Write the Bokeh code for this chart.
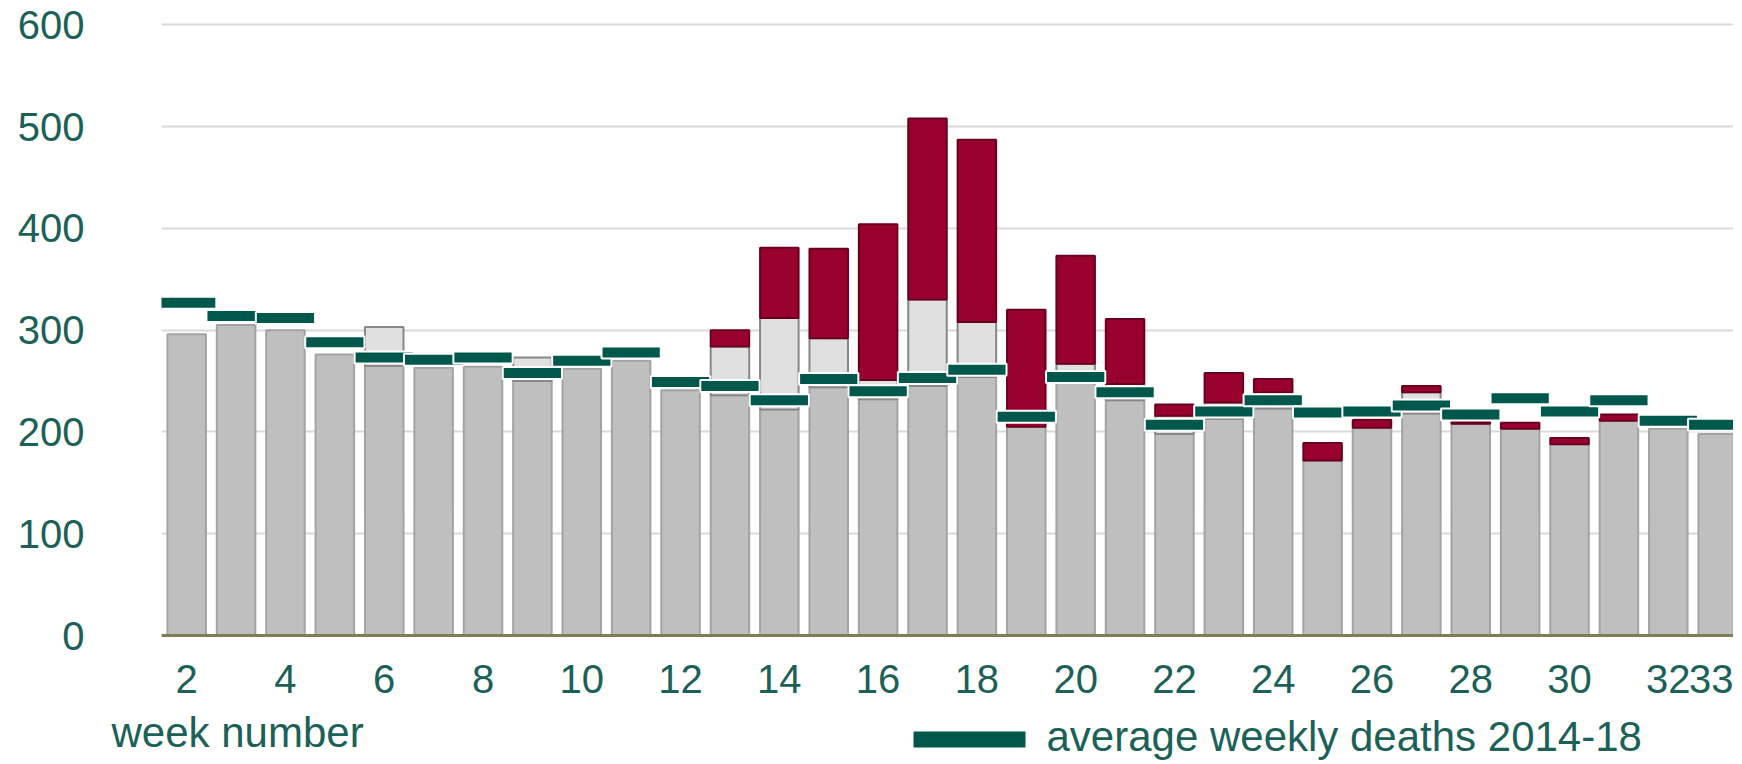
from bokeh.plotting import figure
from bokeh.models import ColumnDataSource, FixedTicker
from bokeh.layouts import column
from bokeh.core.properties import value
from bokeh.embed import file_html
from bokeh.resources import INLINE

# ---- data ----
weeks = list(range(2, 34))
deaths_base = [296, 305, 300, 276, 265, 263, 264, 250, 262, 270, 241, 236, 222, 244,
               232, 245, 254, 205, 248, 231, 198, 213, 223, 172, 204, 218, 208, 203,
               188, 211, 203, 198]
deaths_other_excess = [0, 0, 0, 0, 38, 0, 0, 23, 0, 0, 0, 48, 90, 48, 19, 85, 54, 0,
                       19, 16, 18, 16, 16, 0, 0, 21, 0, 0, 0, 0, 0, 0]
deaths_covid = [0, 0, 0, 0, 0, 0, 0, 0, 0, 0, 0, 16, 69, 88, 153, 178, 179, 115, 106,
                64, 11, 29, 13, 17, 8, 6, 2, 6, 6, 6, 0, 0]
avg_2014_18 = [327, 314, 312, 288, 273, 271, 273, 258, 270, 278, 249, 245, 231, 252,
               240, 253, 261, 215, 254, 239, 207, 220, 231, 219, 220, 226, 217, 233,
               220, 231, 211, 207]
x_ticks = [2, 4, 6, 8, 10, 12, 14, 16, 18, 20, 22, 24, 26, 28, 30, 32, 33]
y_ticks = [0, 100, 200, 300, 400, 500, 600]
x_title = "week number"
legend_label = "average weekly deaths 2014-18"

TEXT = "#1b6158"
GREEN = "#00584c"
FONT = "Liberation Sans"
FS = "40px"
FS2 = "42px"

# ---- build segment tables ----
def seg(bottoms, heights):
    xs, b, t = [], [], []
    for w, lo, h in zip(weeks, bottoms, heights):
        if h > 0:
            xs.append(w); b.append(lo); t.append(lo + h)
    return ColumnDataSource(dict(x=xs, bottom=b, top=t))

zeros = [0] * len(weeks)
src_base = seg(zeros, deaths_base)
src_other = seg(deaths_base, deaths_other_excess)
lvl2 = [a + b for a, b in zip(deaths_base, deaths_other_excess)]
src_covid = seg(lvl2, deaths_covid)
src_avg = ColumnDataSource(dict(x=weeks, y=avg_2014_18))

W = 1733
p = figure(width=W, height=703, x_range=(1.49, 33.32), y_range=(0, 615),
           output_backend="svg", toolbar_location=None,
           min_border_left=161, min_border_right=0, min_border_top=9,
           min_border_bottom=68, frame_align=False)
p.outline_line_color = None

BW = 0.78
p.vbar(x="x", bottom="bottom", top="top", width=BW, source=src_base,
       fill_color="#bfbfbf", line_color="#a3a3a3", line_width=2)
p.vbar(x="x", bottom="bottom", top="top", width=BW, source=src_other,
       fill_color="#e0e0e0", line_color="#878787", line_width=2)
p.vbar(x="x", bottom="bottom", top="top", width=BW, source=src_covid,
       fill_color="#98002e", line_color="#6a0020", line_width=2)
p.rect(x="x", y="y", width=1.2, height=12, height_units="screen", source=src_avg,
       fill_color=GREEN, line_color="white", line_width=2)

# axes
p.xaxis.ticker = FixedTicker(ticks=x_ticks)
p.yaxis.ticker = FixedTicker(ticks=y_ticks)
p.xaxis.axis_line_color = "#7f7d55"
p.xaxis.axis_line_width = 3
for ax in (p.xaxis, p.yaxis):
    ax.major_tick_line_color = None
    ax.minor_tick_line_color = None
    ax.major_label_text_font = FONT
    ax.major_label_text_font_size = FS
    ax.major_label_text_color = TEXT
p.yaxis.axis_line_color = None
p.yaxis.major_label_standoff = 71
p.xaxis.major_label_standoff = 23
p.xgrid.grid_line_color = None
p.ygrid.grid_line_color = "#d9d9d9"
p.ygrid.grid_line_width = 2

# ---- bottom strip: axis title and legend ----
H2 = 58
q = figure(width=W, height=H2, x_range=(0, W), y_range=(0, H2),
           output_backend="svg", toolbar_location=None,
           x_axis_type=None, y_axis_type=None, frame_align=False,
           min_border_left=0, min_border_right=0, min_border_top=0, min_border_bottom=0)
q.outline_line_color = None
q.xgrid.grid_line_color = None
q.ygrid.grid_line_color = None
q.text(x=[111], y=[29], text=[x_title], text_font=value(FONT), text_font_size=FS2,
       text_color=TEXT, text_baseline="alphabetic", text_align="left")
q.quad(left=[913], right=[1025], bottom=[14], top=[30], fill_color=GREEN, line_color=None)
q.text(x=[1046], y=[25], text=[legend_label], text_font=value(FONT), text_font_size=FS2,
       text_color=TEXT, text_baseline="alphabetic", text_align="left")

layout = column(p, q, spacing=0)
open("out.html", "w").write(file_html(layout, INLINE))
